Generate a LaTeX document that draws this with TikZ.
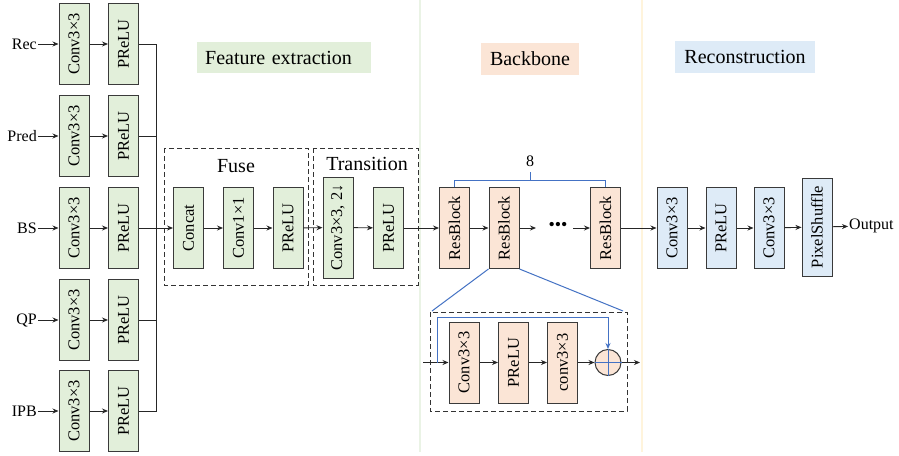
\documentclass[tikz,border=0pt]{standalone}
\usepackage{fontspec}
\setmainfont{Liberation Serif}
\usetikzlibrary{arrows.meta}
\definecolor{gfill}{HTML}{E2EFDA}
\definecolor{pfill}{HTML}{FBE5D6}
\definecolor{bfill}{HTML}{DEEBF7}
\definecolor{edge}{HTML}{3A3A3A}
\definecolor{ablue}{HTML}{4472C4}
\definecolor{divg}{HTML}{EAF3E5}
\definecolor{divy}{HTML}{FFF4DC}
\begin{document}
\begin{tikzpicture}[x=1pt,y=-1pt,
 blk/.style={draw=edge, line width=1pt, minimum width=30pt, minimum height=81pt, inner sep=0pt, font=\fontsize{16.5}{16.5}\selectfont},
 gb/.style={blk, fill=gfill}, pb/.style={blk, fill=pfill}, bb/.style={blk, fill=bfill},
 lbl/.style={font=\fontsize{16}{16}\selectfont, inner sep=1pt},
 ttl/.style={font=\fontsize{20}{20}\selectfont, inner sep=0pt},
 arr/.style={-{Stealth[length=6pt,width=5pt]}, line width=0.9pt, draw=black!85},
 ln/.style={line width=0.9pt, draw=black!85},
 dbox/.style={draw=black!80, dash pattern=on 5pt off 3pt, line width=1pt},
 blu/.style={draw=ablue, line width=1pt}]
\fill[white] (0,0) rectangle (899,455);
\useasboundingbox (0,0) rectangle (899,455);
% dividers
\draw[divg, line width=2pt] (420,0) -- (420,452);
\draw[divy, line width=2pt] (642,0) -- (642,452);
% titles
\node[ttl, fill=gfill, anchor=west, inner xsep=8pt, text width=158pt, align=left, minimum height=31pt] (tfe) at (197,57.5) {Feature extraction};
\node[ttl, fill=pfill, minimum width=98pt, minimum height=32pt] (tbb) at (530,59) {Backbone};
\node[ttl, fill=bfill, minimum width=140pt, minimum height=32pt] (trc) at (745,57) {Reconstruction};
% inputs
\foreach \n/\t/\y in {rec/Rec/44, pred/Pred/136, bs/BS/228, qp/QP/320, ipb/IPB/411} {
 \node[gb] (c\n) at (74,\y) {\rotatebox{90}{Conv3×3}};
 \node[gb] (p\n) at (123.5,\y) {\rotatebox{90}{PReLU}};
 \node[lbl, anchor=east] (l\n) at (38,\y) {\t};
 \draw[arr] (l\n) -- (c\n);
 \draw[arr] (c\n) -- (p\n);
}
\coordinate (bt) at (156,44);
\coordinate (bm) at (156,411);
\draw[ln] (prec.east) -- (bt) -- (bm) -- (pipb.east);
\draw[ln] (ppred.east) -- (ppred.east -| bt);
\draw[ln] (pqp.east) -- (pqp.east -| bt);
% fuse
\draw[dbox] (164,148) rectangle (308,285);
\node[ttl] (fuse) at (236,166) {Fuse};
\node[gb] (concat) at (188.5,228) {\rotatebox{90}{Concat}};
\node[gb] (c11) at (238.5,228) {\rotatebox{90}{Conv1×1}};
\node[gb] (fpr) at (288,228) {\rotatebox{90}{PReLU}};
\draw[arr] (pbs) -- (concat);
\draw[arr] (concat) -- (c11);
\draw[arr] (c11) -- (fpr);
% transition
\draw[dbox] (313,148) rectangle (418,285);
\node[ttl] (trans) at (367,164) {Transition};
\node[gb, minimum height=101pt] (cds) at (338,227.5) {\rotatebox{90}{Conv3×3, 2↓}};
\node[gb] (tpr) at (388.5,228) {\rotatebox{90}{PReLU}};
\draw[arr] (fpr) -- (cds);
\draw[arr] (cds) -- (tpr);
% backbone
\node[pb] (rb1) at (454.5,228) {\rotatebox{90}{ResBlock}};
\node[pb] (rb2) at (504,228) {\rotatebox{90}{ResBlock}};
\node[pb] (rb3) at (605.5,228) {\rotatebox{90}{ResBlock}};
\node[lbl, font=\fontsize{18}{18}\selectfont] (dots) at (558,226) {•••};
\coordinate (d1) at (536,228);
\coordinate (d2) at (573,228);
\draw[arr] (tpr) -- (rb1);
\draw[arr] (rb1) -- (rb2);
\draw[arr] (rb2) -- (d1);
\draw[arr] (d2) -- (rb3);
\draw[blu] (rb1.north) -- ++(0,-7) -| (rb3.north);
\coordinate (bc) at (530,180);
\draw[blu] (bc) -- ++(0,-8);
\node[lbl] (n8) at (530,161) {8};
% resblock detail
\draw[blu] (rb2.south west) -- (432,311);
\draw[blu] (rb2.south east) -- (623,311);
\draw[dbox] (430,312) rectangle (627,411);
\node[pb] (ic1) at (464,362.5) {\rotatebox{90}{Conv3×3}};
\node[pb] (ipr) at (513.5,362.5) {\rotatebox{90}{PReLU}};
\node[pb] (ic2) at (562.5,362.5) {\rotatebox{90}{conv3×3}};
\node[circle, draw=edge, fill=pfill, line width=1pt, minimum size=26pt, inner sep=0pt] (sum) at (608,362.5) {};
\draw[blu] (sum.north) -- (sum.south);
\draw[blu] (sum.west) -- (sum.east);
\coordinate (rin) at (423,362.5);
\coordinate (sk) at (437,362.5);
\coordinate (rout) at (640,362.5);
\draw[arr] (rin) -- (ic1);
\draw[arr] (ic1) -- (ipr);
\draw[arr] (ipr) -- (ic2);
\draw[arr] (ic2) -- (sum);
\draw[arr] (sum) -- (rout);
\draw[blu, -{Stealth[length=6pt,width=5pt]}] (sk) -- (437,317) -| (sum.north);
% reconstruction
\node[bb] (rc1) at (672,228) {\rotatebox{90}{Conv3×3}};
\node[bb] (rpr) at (721,228) {\rotatebox{90}{PReLU}};
\node[bb] (rc2) at (769,228) {\rotatebox{90}{Conv3×3}};
\node[bb, minimum height=98pt] (ps) at (817,227) {\rotatebox{90}{PixelShuffle}};
\node[lbl, anchor=west] (out) at (848,226) {Output};
\draw[arr] (rb3) -- (rc1);
\draw[arr] (rc1) -- (rpr);
\draw[arr] (rpr) -- (rc2);
\draw[arr] (rc2) -- (ps);
\draw[arr] (ps) -- (out);
\end{tikzpicture}
\end{document}
